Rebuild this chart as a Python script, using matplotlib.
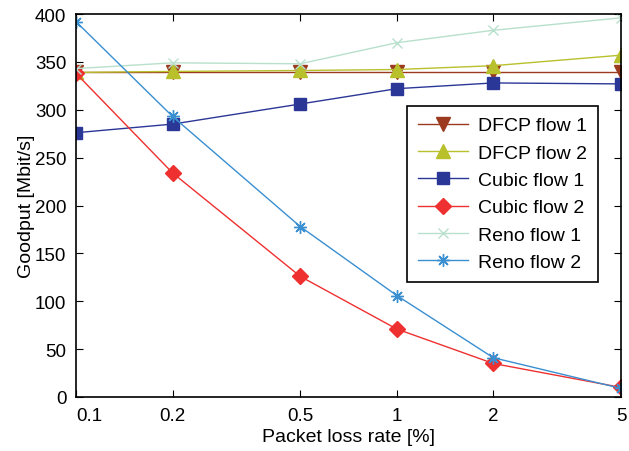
import matplotlib
matplotlib.use("Agg")
import matplotlib.pyplot as plt

plt.rcParams['font.family'] = ['Liberation Sans', 'DejaVu Sans']

loss = [0.1, 0.2, 0.5, 1, 2, 5]
dfcp1 = [339, 339, 339, 339, 339, 339]
dfcp2 = [339, 340, 341, 342, 346, 357]
cubic1 = [276, 285, 306, 322, 328, 327]
cubic2 = [338, 234, 126, 71, 35, 10]
reno1 = [343, 349, 348, 370, 383, 396]
reno2 = [392, 293, 178, 106, 41, 9]

fig = plt.figure(figsize=(6.29, 4.52), dpi=100)
ax = fig.add_axes([76/629, 1-398/452, 545/629, 383/452])

ax.plot(loss, dfcp1, color='#9B3A1E', marker='v', ms=10, lw=1, label='DFCP flow 1')
ax.plot(loss, dfcp2, color='#B8C02C', marker='^', ms=10, lw=1, label='DFCP flow 2')
ax.plot(loss, cubic1, color='#2B3797', marker='s', ms=8, lw=1, label='Cubic flow 1')
ax.plot(loss, cubic2, color='#EE3030', marker='D', ms=8, lw=1, label='Cubic flow 2')
ax.plot(loss, reno1, color='#B8E0CC', marker='x', ms=7, lw=1, label='Reno flow 1')
ax.plot(loss, reno2, color='#3A8FD0', marker=(8, 2, 0), ms=9, lw=1, label='Reno flow 2')

ax.set_xscale('log')
ax.set_xlim(0.1, 5)
ax.set_ylim(0, 400)
ax.set_xticks(loss)
ax.set_xticklabels(['0.1', '0.2', '0.5', '1', '2', '5'])
ax.minorticks_off()
ax.set_yticks(range(0, 401, 50))
ax.tick_params(direction='in', labelsize=13.5, length=5, top=True, right=True, pad=7)
ax.get_xticklabels()[0].set_horizontalalignment('left')
for s in ax.spines.values():
    s.set_linewidth(1.2)
ax.set_xlabel('Packet loss rate [%]', fontsize=14, labelpad=3)
ax.set_ylabel('Goodput [Mbit/s]', fontsize=14, labelpad=0)

leg = ax.legend(loc='upper left', bbox_to_anchor=((407-76)/545, (398-107)/383),
                fontsize=14, fancybox=False, framealpha=1, edgecolor='black',
                handlelength=2.6, borderpad=0.55, labelspacing=0.5, handletextpad=0.5,
                borderaxespad=0)
leg.get_frame().set_linewidth(1.2)

fig.savefig('out.png', dpi=100)
